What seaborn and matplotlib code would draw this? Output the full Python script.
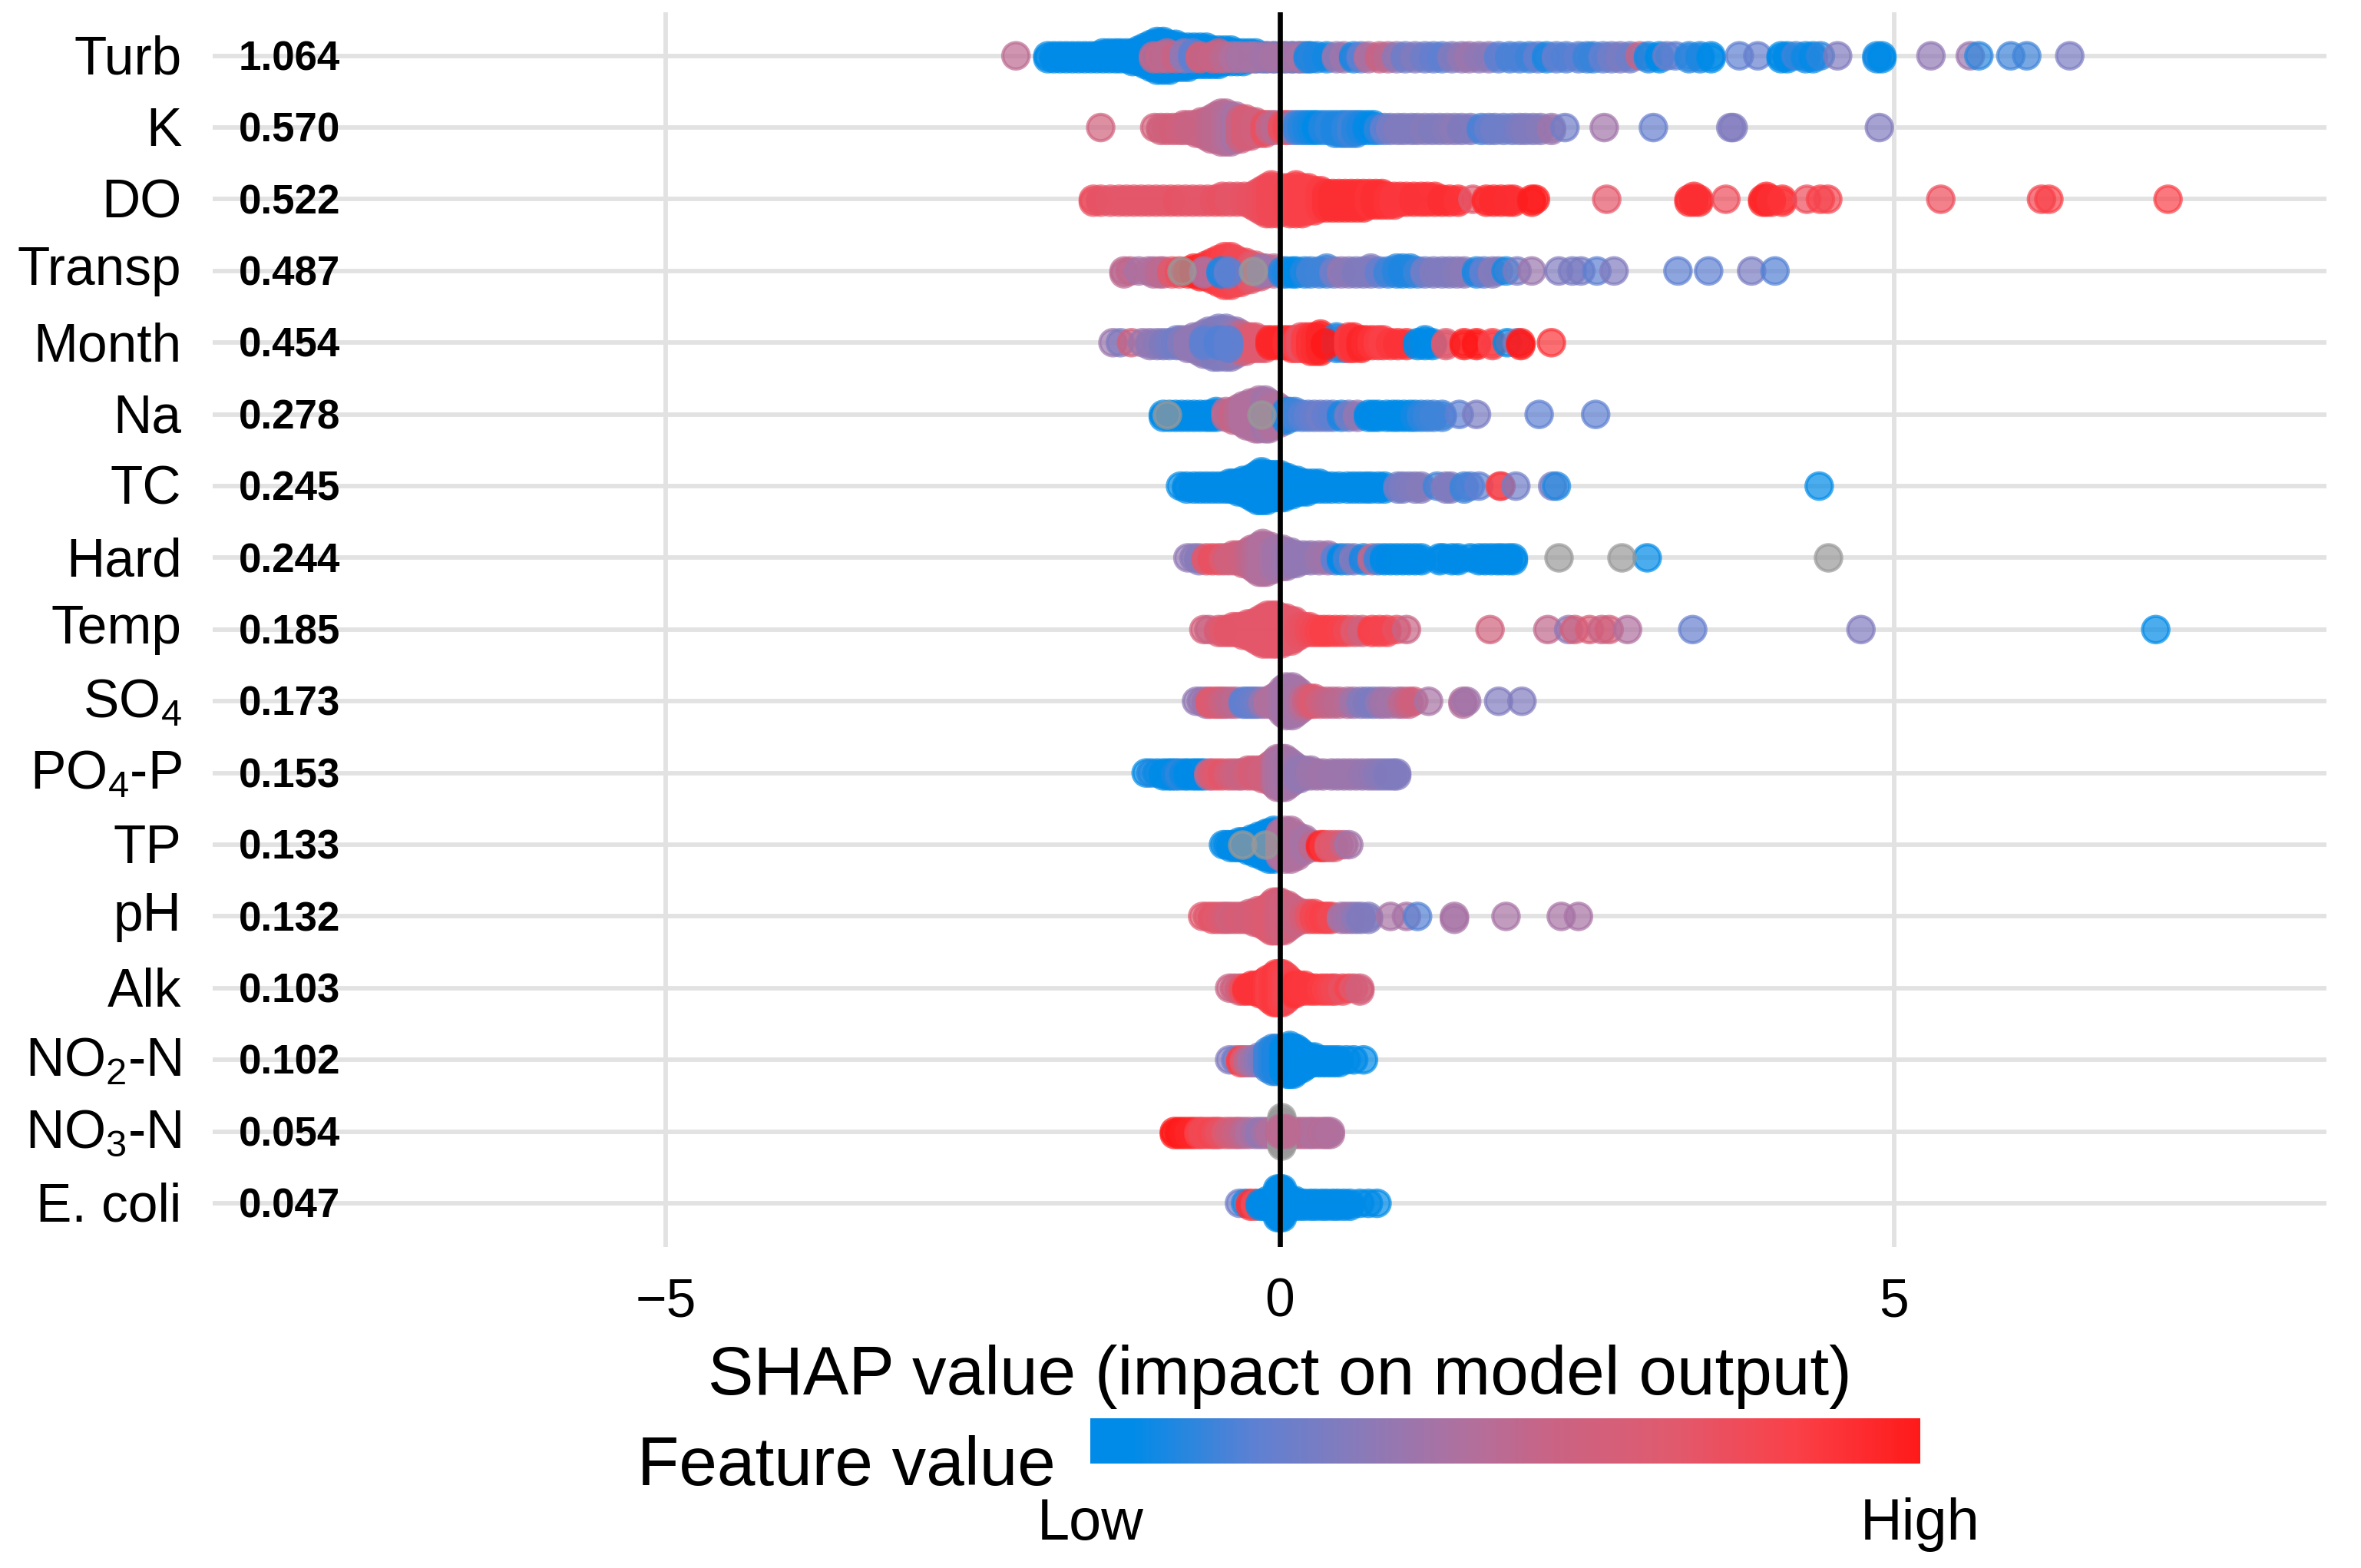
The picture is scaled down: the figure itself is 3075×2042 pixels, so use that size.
import math

import matplotlib.pyplot as plt
import numpy as np
import pandas as pd
import seaborn as sns
from matplotlib.cm import ScalarMappable
from matplotlib.colors import LinearSegmentedColormap, Normalize
from matplotlib.transforms import ScaledTranslation

nan = float("nan")

feature_names = ["Turb", "K", "DO", "Transp", "Month", "Na", "TC", "Hard", "Temp", "SO$_4$",
                 "PO$_4$-P", "TP", "pH", "Alk", "NO$_2$-N", "NO$_3$-N", "E. coli"]
mean_abs_shap = ["1.064", "0.570", "0.522", "0.487", "0.454", "0.278", "0.245", "0.244", "0.185",
                 "0.173", "0.153", "0.133", "0.132", "0.103", "0.102", "0.054", "0.047"]
x_ticks = [-5, 0, 5]

# each point: (shap value, feature value 0-1, how many samples pile up there)
turb = [(-2.15, .5, 1), (-1.89, 0, 2), (-1.84, 0, 2), (-1.79, 0, 2), (-1.74, 0, 2), (-1.69, 0, 2), (-1.64, 0, 2),
        (-1.59, 0, 2), (-1.54, 0, 2), (-1.49, 0, 2), (-1.44, 0, 3), (-1.39, 0, 3), (-1.34, 0, 3), (-1.3, 0, 3),
        (-1.25, 0, 3), (-1.2, 0, 4), (-1.15, 0, 5), (-1.1, 0, 7), (-1.05, 0, 9), (-1.0, 0, 11), (-.95, 0, 11),
        (-.9, 0, 10), (-.85, 0, 9), (-.8, 0, 8), (-.75, 0, 8), (-.7, 0, 7), (-.65, 0, 7), (-.6, 0, 7), (-.55, 0, 6),
        (-.5, 0, 6), (-.45, 0, 5), (-.4, 0, 5), (-.35, 0, 4), (-.3, 0, 4), (-.25, 0, 3), (-.2, 0, 3), (-.15, 0, 2),
        (-.1, 0, 2), (-.05, 0, 2), (0, 0, 2), (.05, 0, 2), (.1, 0, 2), (.15, 0, 2), (.2, 0, 2), (.25, 0, 2),
        (-1.03, .5, 2), (-.98, .52, 2), (-.92, .5, 3), (-.85, .55, 2), (-.78, .35, 3), (-.71, .2, 3), (-.65, .6, 2),
        (-.55, .55, 2), (-.5, .55, 3), (-.45, .5, 2), (-.38, .45, 2), (-.32, .42, 2), (-.25, .42, 2), (-.2, .42, 2),
        (-.12, .4, 2), (-.05, .42, 2), (.03, .42, 2), (.1, .4, 2), (.17, .42, 2), (.23, .1, 2), (.3, .1, 2),
        (.38, .08, 2), (.46, .35, 2), (.52, .38, 2), (.6, .1, 2), (.66, .2, 2), (.72, .45, 2), (.81, .55, 2),
        (.88, .5, 2), (.95, .35, 2), (1.02, .25, 2), (1.1, .3, 2), (1.18, .25, 2), (1.25, .22, 2), (1.32, .2, 2),
        (1.4, .3, 2), (1.48, .35, 2), (1.54, .38, 2), (1.62, .35, 2), (1.7, .33, 2), (1.78, .2, 2), (1.87, .17, 2),
        (1.95, .17, 2), (2.03, .15, 2), (2.1, .2, 2), (2.17, .1, 2), (2.25, .2, 2), (2.33, .18, 2), (2.43, .2, 2),
        (2.5, .15, 2), (2.55, .14, 2), (2.63, .2, 2), (2.7, .25, 2), (2.77, .28, 2), (2.85, .25, 2), (2.93, .55, 1),
        (3.0, .1, 2), (3.09, .05, 2), (3.15, .25, 1), (3.22, .2, 1), (3.33, .12, 2), (3.42, .1, 2), (3.51, .05, 2),
        (3.74, .2, 1), (3.89, .22, 1), (4.08, .05, 2), (4.13, .03, 2), (4.2, .15, 1), (4.28, .08, 2), (4.34, .06, 2),
        (4.4, .12, 1), (4.54, .3, 1), (4.86, .08, 2), (4.9, .02, 2), (5.3, .35, 1), (5.62, .38, 1), (5.69, .12, 1),
        (5.95, .15, 1), (6.08, .15, 1), (6.43, .28, 1)]
k = [(-1.46, .6, 1), (-1.02, .62, 1), (-.97, .6, 2), (-.92, .6, 2), (-.87, .62, 2), (-.82, .6, 2), (-.78, .58, 3),
     (-.73, .55, 3), (-.68, .55, 4), (-.64, .55, 5), (-.6, .55, 6), (-.56, .52, 8), (-.52, .5, 9), (-.48, .5, 11),
     (-.44, .48, 11), (-.4, .45, 10), (-.36, .42, 9), (-.32, .55, 8), (-.28, .65, 7), (-.24, .62, 6), (-.2, .6, 5),
     (-.16, .6, 4), (-.12, .75, 4), (-.08, .55, 3), (-.04, .5, 3), (.02, .75, 3), (.06, .8, 3), (.1, .3, 3),
     (.14, .15, 3), (.18, .12, 3), (.22, .1, 3), (.26, .08, 3), (.3, .05, 3), (.35, .1, 3), (.4, .12, 3), (.45, .1, 4),
     (.5, .1, 4), (.54, .12, 4), (.58, .15, 4), (.62, .12, 4), (.66, .1, 3), (.71, .06, 3), (.76, .05, 3), (.8, .12, 2),
     (.85, .2, 2), (.9, .27, 2), (.96, .3, 2), (1.01, .3, 2), (1.07, .3, 2), (1.12, .3, 2), (1.18, .32, 2), (1.24, .3, 2),
     (1.3, .3, 2), (1.36, .32, 2), (1.42, .33, 2), (1.48, .3, 2), (1.55, .3, 2), (1.64, .17, 2), (1.7, .22, 2),
     (1.75, .25, 2), (1.82, .25, 2), (1.89, .25, 2), (1.95, .28, 2), (2.0, .3, 2), (2.06, .3, 2), (2.12, .32, 2),
     (2.21, .38, 2), (2.32, .25, 1), (2.64, .4, 1), (3.04, .22, 1), (3.67, .3, 1), (3.69, .3, 1), (4.88, .3, 1)]
do = [(-1.52, .76, 2), (-1.46, .74, 2), (-1.38, .72, 2), (-1.31, .72, 2), (-1.25, .72, 2), (-1.19, .72, 2),
      (-1.13, .72, 2), (-1.07, .72, 2), (-1.01, .72, 2), (-.95, .72, 2), (-.89, .72, 2), (-.83, .74, 2), (-.77, .72, 2),
      (-.71, .72, 2), (-.65, .72, 2), (-.59, .72, 2), (-.53, .74, 2), (-.47, .75, 3), (-.41, .72, 3), (-.35, .72, 3),
      (-.29, .74, 3), (-.23, .75, 4), (-.19, .75, 6), (-.15, .76, 8), (-.11, .78, 10), (-.07, .8, 11), (-.02, .8, 10),
      (.03, .8, 9), (.08, .82, 10), (.13, .84, 11), (.18, .85, 10), (.23, .85, 9), (.28, .85, 8), (.33, .87, 7),
      (.38, .9, 6), (.43, .92, 6), (.48, .92, 6), (.53, .92, 6), (.58, .92, 6), (.63, .92, 6), (.68, .92, 6), (.73, .9, 5),
      (.78, .92, 5), (.83, .92, 5), (.88, .9, 4), (.93, .88, 4), (.98, .88, 3), (1.03, .88, 3), (1.09, .9, 3),
      (1.15, .9, 3), (1.2, .9, 3), (1.26, .9, 3), (1.32, .92, 2), (1.38, .92, 2), (1.45, .9, 2), (1.57, .7, 1),
      (1.68, .93, 2), (1.74, .93, 2), (1.8, .93, 2), (1.86, .92, 2), (1.9, .92, 2), (2.05, .98, 2), (2.08, .98, 1),
      (2.66, .72, 1), (3.33, .92, 2), (3.37, .92, 3), (3.41, .92, 2), (3.63, .78, 1), (3.93, .95, 2), (3.96, .95, 3),
      (4.0, .92, 2), (4.09, .9, 2), (4.29, .78, 1), (4.4, .85, 1), (4.46, .82, 1), (5.38, .78, 1), (6.2, .82, 1),
      (6.26, .85, 1), (7.23, .85, 1)]
transp = [(-1.27, .5, 2), (-1.22, .52, 1), (-1.15, .42, 1), (-1.07, .45, 1), (-1.03, .45, 2), (-.98, .5, 2), (-.95, .5, 2),
          (-.88, .7, 2), (-.82, .75, 2), (-.75, .9, 2), (-.7, .95, 3), (-.65, .95, 4), (-.6, .92, 5), (-.55, .9, 7),
          (-.5, .87, 9), (-.45, .85, 11), (-.4, .83, 11), (-.36, .8, 9), (-.32, .8, 8), (-.28, .8, 7), (-.24, .72, 6),
          (-.2, .7, 5), (-.16, .65, 4), (-.12, .6, 3), (-.05, .5, 3), (-.62, .45, 2), (-.48, .1, 2), (-.42, .2, 2),
          (-.15, .38, 3), (-.8, nan, 1), (-.22, nan, 1),
          (.02, .12, 2), (.05, .1, 2), (.1, .06, 2), (.13, .05, 2), (.2, .1, 2), (.25, .15, 2), (.32, .15, 2), (.38, .15, 3),
          (.44, .25, 2), (.5, .35, 2), (.56, .33, 2), (.62, .3, 2), (.68, .3, 2), (.74, .3, 3), (.81, .22, 2),
          (.88, .15, 2), (.95, .12, 3), (1.0, .1, 3), (1.06, .1, 3), (1.12, .14, 2), (1.18, .25, 2), (1.25, .3, 2),
          (1.32, .3, 2), (1.38, .3, 2), (1.44, .32, 2), (1.5, .33, 2), (1.6, .1, 2), (1.66, .2, 2), (1.73, .32, 2),
          (1.78, .3, 1), (1.84, .08, 1), (1.93, .28, 1), (2.05, .38, 1), (2.27, .3, 1), (2.38, .28, 1),
          (2.45, .28, 1), (2.58, .2, 1), (2.72, .3, 1), (3.24, .2, 1), (3.49, .2, 1), (3.84, .28, 1), (4.03, .18, 1)]
month = [(-1.36, .38, 1), (-1.3, .3, 1), (-1.21, .6, 1), (-1.12, .38, 1), (-1.06, .35, 2), (-1.0, .33, 2), (-.95, .3, 2),
         (-.9, .27, 2), (-.84, .25, 3), (-.8, .3, 3), (-.75, .35, 4), (-.7, .35, 5), (-.66, .35, 6), (-.62, .34, 8),
         (-.58, .33, 9), (-.54, .3, 10), (-.5, .3, 11), (-.44, .3, 11), (-.4, .32, 10), (-.36, .35, 9), (-.32, .5, 7),
         (-.28, .6, 6), (-.24, .66, 5), (-.2, .7, 5), (-.16, .7, 4), (-.12, .7, 4), (-.62, .2, 3), (-.5, .18, 3),
         (-.42, .2, 4), (-.08, .95, 3), (-.03, .95, 3), (.02, .95, 3), (.06, .92, 3), (.1, .9, 4), (.14, .82, 4),
         (.17, .75, 5), (.21, .85, 5), (.25, .9, 6), (.29, .92, 6), (.33, .95, 7), (.46, .1, 5), (.52, .12, 4), (.37, 1, 2),
         (.56, .88, 5), (.6, .9, 5), (.66, .95, 4), (.7, .93, 3), (.75, .9, 3), (.8, .87, 3), (.84, .85, 3), (.9, .88, 2),
         (.96, .9, 2), (1.03, .9, 2), (1.12, 0, 2), (1.18, .03, 3), (1.24, 0, 2), (1.35, .7, 2), (1.5, .98, 2), (1.6, 1, 2),
         (1.73, .85, 2), (1.85, .05, 1), (1.93, .3, 1), (1.96, 1, 2), (2.21, .9, 1)]
na = [(-.95, 0, 2), (-.9, 0, 2), (-.85, 0, 2), (-.8, 0, 2), (-.75, 0, 2), (-.7, 0, 2), (-.65, 0, 2), (-.6, 0, 2), (-.56, 0, 2),
      (-.52, .02, 3), (-.44, .5, 3), (-.38, .55, 4), (-.34, .5, 5), (-.3, .45, 7), (-.27, .45, 8), (-.24, .45, 9),
      (-.2, .45, 10), (-.17, .45, 11), (-.12, .4, 11), (-.09, .42, 10), (-.06, .45, 8), (-.03, .45, 7), (0, .45, 6),
      (.05, .1, 4), (.08, .12, 3), (.12, .15, 3), (.18, .18, 2), (.23, .2, 2), (.28, .22, 2), (.33, .25, 2), (.38, .22, 2),
      (.43, .2, 2), (.5, .1, 2), (.56, .25, 2), (.63, .35, 2), (.72, .05, 2), (.76, .04, 2), (.8, .03, 2), (.87, 0, 2),
      (.92, .02, 2), (.96, .03, 2), (1.01, .04, 2), (1.06, .05, 2), (1.1, .08, 2), (1.15, .12, 2), (1.2, .14, 2),
      (1.25, .15, 2), (1.32, .15, 2), (1.46, .2, 1), (1.6, .28, 1), (2.11, .2, 1), (2.57, .2, 1), (-.92, nan, 1),
      (-.15, nan, 1)]
tc = [(-.81, 0, 1), (-.76, 0, 2), (-.7, 0, 2), (-.65, 0, 2), (-.6, 0, 2), (-.55, 0, 2), (-.5, 0, 2), (-.45, 0, 2), (-.41, 0, 3),
      (-.38, 0, 3), (-.34, 0, 4), (-.3, 0, 5), (-.26, 0, 6), (-.22, 0, 8), (-.18, 0, 10), (-.15, 0, 11), (-.11, 0, 10),
      (-.08, 0, 9), (-.04, 0, 9), (0, 0, 9), (.03, 0, 8), (.06, 0, 7), (.1, 0, 6), (.14, 0, 5), (.18, 0, 4), (.22, 0, 4),
      (.27, 0, 3), (.32, 0, 3), (.37, 0, 2), (.42, 0, 2), (.48, 0, 2), (.55, 0, 2), (.6, 0, 2), (.65, 0, 2), (.7, 0, 2),
      (.74, 0, 2), (.8, 0, 2), (.85, 0, 2), (.96, .25, 2), (1.0, .28, 2), (1.05, .3, 1), (1.1, .3, 2), (1.15, .32, 2),
      (1.28, .15, 1), (1.35, .3, 2), (1.39, .3, 2), (1.5, .15, 2), (1.55, .17, 1), (1.62, .2, 1), (1.79, .75, 1), (1.8, .85, 1),
      (1.92, .25, 1), (2.22, .28, 1), (2.25, .1, 1), (4.39, 0, 1)]
hard = [(-.75, .35, 1), (-.7, .33, 1), (-.66, .32, 2), (-.6, .7, 2), (-.55, .75, 2), (-.5, .75, 2), (-.46, .68, 2), (-.42, .6, 2),
        (-.38, .6, 3), (-.34, .6, 3), (-.3, .58, 4), (-.26, .55, 5), (-.23, .52, 7), (-.2, .5, 8), (-.17, .47, 10),
        (-.14, .45, 11), (-.11, .45, 10), (-.08, .45, 9), (-.05, .42, 8), (-.02, .4, 7), (.02, .4, 7), (.05, .38, 6), (.09, .36, 5),
        (.13, .35, 4), (.19, .35, 3), (.25, .35, 3), (.32, .38, 3), (.39, .4, 3), (.45, .2, 2), (.5, .05, 2), (.55, .15, 2),
        (.6, .3, 2), (.68, .1, 2), (.75, .5, 2), (.8, .15, 2), (.85, .03, 2), (.9, 0, 2), (.95, 0, 2), (1.0, 0, 2), (1.05, 0, 2),
        (1.1, 0, 2), (1.15, 0, 2), (1.3, .05, 2), (1.33, 0, 1), (1.4, .03, 2), (1.45, .03, 2), (1.55, 0, 1), (1.62, 0, 2),
        (1.67, 0, 2), (1.72, 0, 2), (1.77, 0, 2), (1.81, 0, 2), (1.86, 0, 2), (1.9, 0, 2), (2.27, nan, 1), (2.78, nan, 1),
        (2.99, 0, 1), (4.46, nan, 1)]
temp = [(-.62, .62, 1), (-.58, .55, 1), (-.5, .65, 2), (-.46, .7, 2), (-.42, .72, 2), (-.38, .72, 3), (-.34, .72, 3), (-.3, .72, 4),
        (-.26, .72, 5), (-.22, .72, 6), (-.18, .72, 8), (-.14, .72, 10), (-.1, .72, 11), (-.06, .72, 11), (-.03, .72, 11),
        (.01, .72, 10), (.05, .72, 9), (.09, .72, 8), (.12, .72, 7), (.16, .74, 4), (.2, .75, 3), (.24, .78, 3), (.28, .8, 2),
        (.32, .83, 2), (.36, .85, 2), (.4, .85, 2), (.45, .85, 2), (.5, .83, 2), (.55, .8, 2), (.61, .7, 2), (.67, .6, 2),
        (.75, .85, 2), (.81, .83, 2), (.87, .82, 2), (.95, .75, 1), (1.03, .55, 1), (1.71, .6, 1), (2.18, .52, 1), (2.35, .35, 1),
        (2.4, .62, 1), (2.52, .65, 1), (2.62, .55, 1), (2.68, .62, 1), (2.83, .45, 1), (3.36, .22, 1), (4.73, .3, 1), (7.13, 0, 1)]
so4 = [(-.68, .35, 1), (-.64, .36, 1), (-.6, .38, 2), (-.57, .7, 2), (-.53, .68, 2), (-.5, .65, 2), (-.47, .6, 2), (-.44, .55, 2),
       (-.4, .52, 2), (-.36, .5, 2), (-.3, .2, 2), (-.27, .2, 2), (-.24, .22, 2), (-.21, .23, 2), (-.18, .25, 2), (-.14, .35, 2),
       (-.1, .45, 2), (-.06, .45, 3), (-.02, .45, 5), (.02, .42, 9), (.05, .4, 11), (.1, .4, 11), (.13, .41, 9), (.16, .42, 7),
       (.19, .48, 4), (.22, .55, 3), (.25, .62, 3), (.28, .68, 3), (.33, .6, 2), (.38, .55, 2), (.43, .52, 2), (.48, .5, 2),
       (.55, .48, 2), (.6, .4, 2), (.66, .32, 2), (.71, .3, 2), (.76, .28, 2), (.81, .35, 2), (.85, .4, 2), (.9, .41, 2),
       (.96, .42, 2), (1.0, .5, 2), (1.05, .55, 2), (1.09, .62, 1), (1.21, .42, 1), (1.49, .45, 2), (1.52, .4, 1), (1.78, .3, 1),
       (1.97, .3, 1)]
po4 = [(-1.09, .05, 1), (-1.05, .1, 1), (-1.0, .07, 1), (-.95, .03, 2), (-.91, .04, 2), (-.88, .05, 2), (-.85, .08, 2), (-.82, .12, 2),
       (-.78, .08, 2), (-.75, .05, 2), (-.71, .02, 2), (-.68, 0, 2), (-.65, 0, 2), (-.62, 0, 2), (-.58, .5, 2), (-.55, .65, 2),
       (-.51, .7, 2), (-.47, .72, 2), (-.42, .65, 2), (-.38, .6, 2), (-.34, .57, 2), (-.31, .55, 2), (-.26, .6, 3), (-.22, .65, 3),
       (-.18, .62, 3), (-.14, .6, 4), (-.1, .6, 5), (-.07, .6, 7), (-.04, .5, 9), (-.02, .45, 11), (.01, .43, 11), (.04, .42, 11),
       (.07, .41, 9), (.1, .4, 7), (.13, .38, 5), (.16, .35, 4), (.2, .36, 3), (.25, .38, 3), (.3, .39, 2), (.35, .4, 2),
       (.42, .38, 2), (.47, .38, 2), (.52, .38, 2), (.57, .38, 2), (.62, .38, 2), (.67, .37, 2), (.72, .36, 2), (.76, .35, 2),
       (.8, .33, 2), (.84, .32, 2), (.88, .3, 2), (.92, .3, 2), (.95, .3, 2)]
tp = [(-.46, 0, 1), (-.43, 0, 1), (-.4, 0, 2), (-.36, 0, 2), (-.33, 0, 3), (-.3, 0, 3), (-.26, 0, 4), (-.23, 0, 5), (-.2, 0, 6), (-.17, 0, 7),
      (-.14, 0, 8), (-.11, 0, 9), (-.09, 0, 10), (-.05, 0, 11), (0, .45, 9), (.04, .45, 11), (.09, .45, 11), (.14, .45, 8),
      (.2, .42, 5), (.27, .5, 2), (.33, .95, 2), (.36, .9, 2), (.4, .7, 2), (.44, .7, 2), (.48, .68, 1), (.52, .55, 1), (.56, .4, 1),
      (-.31, nan, 1), (-.12, nan, 1)]
ph = [(-.63, .7, 1), (-.59, .7, 1), (-.55, .72, 2), (-.51, .7, 2), (-.47, .68, 2), (-.44, .65, 2), (-.41, .6, 2), (-.37, .62, 2), (-.33, .65, 2),
      (-.29, .64, 2), (-.25, .62, 3), (-.21, .64, 4), (-.18, .65, 5), (-.14, .66, 6), (-.1, .68, 8), (-.07, .68, 10), (-.05, .68, 11),
      (-.02, .65, 11), (0, .62, 11), (.03, .6, 10), (.06, .6, 9), (.09, .58, 7), (.13, .55, 5), (.17, .58, 3), (.2, .62, 3),
      (.24, .72, 3), (.28, .8, 3), (.32, .83, 2), (.36, .85, 2), (.39, .83, 2), (.42, .8, 2), (.5, .42, 2), (.54, .4, 2), (.58, .38, 2),
      (.62, .34, 2), (.66, .3, 2), (.72, .3, 2), (.9, .42, 1), (1.03, .42, 1), (1.12, .18, 1), (1.42, .42, 2), (1.84, .42, 1),
      (2.29, .42, 1), (2.43, .42, 1)]
alk = [(-.41, .55, 1), (-.37, .58, 1), (-.33, .6, 2), (-.3, .75, 2), (-.27, .9, 2), (-.23, .9, 3), (-.2, .9, 3), (-.16, .9, 4), (-.13, .9, 5),
       (-.1, .88, 7), (-.08, .85, 8), (-.05, .87, 10), (-.03, .88, 11), (0, .87, 11), (.02, .85, 11), (.05, .82, 9), (.07, .8, 7),
       (.1, .85, 5), (.12, .9, 4), (.16, .89, 3), (.2, .88, 3), (.25, .88, 2), (.29, .88, 2), (.34, .87, 2), (.38, .85, 2),
       (.42, .82, 2), (.45, .8, 2), (.51, .75, 2), (.56, .82, 1), (.6, .7, 1), (.65, .62, 2)]
no2 = [(-.41, .3, 1), (-.36, .25, 1), (-.32, .85, 2), (-.29, .7, 2), (-.26, .5, 2), (-.23, .42, 2), (-.2, .38, 2), (-.17, .34, 3), (-.14, .3, 3),
       (-.1, .15, 7), (-.06, .12, 9), (-.03, .1, 9), (.03, 0, 9), (.06, 0, 10), (.08, 0, 11), (.11, 0, 10), (.13, 0, 9), (.16, 0, 7),
       (.18, 0, 6), (.21, 0, 4), (.24, 0, 3), (.28, 0, 3), (.32, 0, 2), (.36, 0, 2), (.4, 0, 2), (.44, 0, 2), (.48, 0, 2),
       (.54, 0, 1), (.6, 0, 1), (.68, 0, 1)]
no3 = [(-.86, 1, 2), (-.82, 1, 2), (-.78, .98, 2), (-.74, .96, 2), (-.7, .95, 2), (-.66, .85, 2), (-.63, .8, 2), (-.59, .8, 2), (-.55, .82, 2),
       (-.52, .78, 2), (-.49, .75, 2), (-.44, .68, 2), (-.4, .62, 2), (-.36, .58, 2), (-.33, .55, 2), (-.29, .5, 2), (-.25, .45, 2),
       (-.2, .4, 2), (-.16, .35, 2), (-.12, .4, 2), (-.08, .45, 2), (.12, .45, 2), (.16, .48, 2), (.2, .5, 2), (.24, .47, 2),
       (.27, .45, 2), (.31, .46, 2), (.35, .48, 2), (.38, .46, 2), (.41, .45, 2), (.01, nan, 11)]
# these sit on top of the grey pile in the NO3-N row
no3_top = [(0, .5, 3), (.05, .5, 3)]
ecoli = [(-.33, .25, 1), (-.28, .1, 1), (-.24, .9, 2), (-.2, .8, 2), (-.16, 0, 2), (-.13, 0, 2), (-.1, 0, 3), (-.06, 0, 3),
         (-.02, 0, 11), (0, 0, 11), (.02, 0, 11), (.06, 0, 3), (.09, 0, 3), (.12, 0, 3), (.16, 0, 2), (.2, 0, 2), (.25, 0, 2), (.29, 0, 2),
         (.34, 0, 2), (.38, 0, 2), (.43, 0, 2), (.47, 0, 2), (.52, 0, 2), (.57, 0, 2), (.65, 0, 1), (.72, 0, 1), (.79, 0, 1)]

rows = [turb, k, do, transp, month, na, tc, hard, temp, so4, po4, tp, ph, alk, no2, no3, ecoli]
no3_row = 15

sns.set_theme(style="white")
plt.rcParams["font.family"] = ["Liberation Sans", "DejaVu Sans"]
plt.rcParams["mathtext.fontset"] = "custom"
plt.rcParams["mathtext.rm"] = "Liberation Sans"
plt.rcParams["mathtext.default"] = "regular"

shap_colors = [(0, "#008be8"), (.05, "#008be8"), (.2, "#5f80d2"), (.33, "#8b7ab8"), (.45, "#b0709e"),
               (.55, "#c86485"), (.7, "#e05a6e"), (.85, "#fa4048"), (1, "#ff1a1a")]
shap_cmap = LinearSegmentedColormap.from_list("shap_like", shap_colors)


def pile_up(points, row):
    # spread the samples of one spot up and down like the shap beeswarm does
    out = []
    for shap_val, feat_val, count in points:
        for layer in range(count):
            sign = 1 if layer % 2 else -1
            out.append((shap_val, row + math.ceil(layer / 2) * sign * 0.04, feat_val))
    return out


records = []
for i, points in enumerate(rows):
    records += pile_up(points, i)
df = pd.DataFrame(records, columns=["shap", "y", "value"])
df_top = pd.DataFrame(pile_up(no3_top, no3_row), columns=["shap", "y", "value"])

W, H = 3075, 2042
fig = plt.figure(figsize=(W / 300, H / 300), dpi=300)
ax = fig.add_axes([277 / W, 1 - 1624 / H, (3030 - 277) / W, (1624 - 16) / H])

point_style = dict(s=68, alpha=0.7, linewidth=1, edgecolor="face", legend=False, ax=ax)
sns.scatterplot(data=df[df["value"].notna()], x="shap", y="y", hue="value", hue_norm=(0, 1),
                palette=shap_cmap, **point_style)
sns.scatterplot(data=df[df["value"].isna()], x="shap", y="y", color="#999999", **point_style)
sns.scatterplot(data=df_top, x="shap", y="y", hue="value", hue_norm=(0, 1), palette=shap_cmap, **point_style)

ax.set_xlim(-8.69, 8.52)
ax.set_ylim(16.61, -0.607)
ax.set_xticks(x_ticks)
ax.set_yticks(np.arange(len(feature_names)))
ax.set_yticklabels(feature_names)
ax.tick_params(axis="y", length=0, pad=9.7, labelsize=16.7, labelcolor="black")
ax.tick_params(axis="x", length=0, pad=9.5, labelsize=16.7, labelcolor="black")
ax.grid(True, color="#e2e2e2", linewidth=1.4)
ax.set_axisbelow(True)
sns.despine(ax=ax, left=True, bottom=True)

# labels with a descender or subscript sit a little higher than the plain ones
for label in ax.get_yticklabels():
    name = label.get_text()
    if name in ("Transp", "Temp", "pH"):
        up_pt = 1.7
    elif "$" in name:
        up_pt = 1.0
    else:
        up_pt = 0.4
    label.set_transform(label.get_transform() + ScaledTranslation(0, up_pt / 72, fig.dpi_scale_trans))

ax.axvline(0, color="black", linewidth=1.6, zorder=5)

for i, txt in enumerate(mean_abs_shap):
    ax.text(-8.48, i + 0.05, txt, fontsize=12.7, fontweight="bold", color="black", ha="left", va="center")

ax.set_xlabel("SHAP value (impact on model output)", fontsize=21.4, color="black", va="baseline")
ax.xaxis.set_label_coords(0.5048, (1624 - 1816) / (1624 - 16))
ax.set_ylabel("")

# colour bar under the axis
cax = fig.add_axes([1420 / W, 1 - 1906 / H, (2501 - 1420) / W, (1906 - 1847) / H])
cbar = fig.colorbar(ScalarMappable(norm=Normalize(0, 1), cmap=shap_cmap), cax=cax, orientation="horizontal")
cbar.outline.set_visible(False)
cbar.set_ticks([0, 1])
cbar.set_ticklabels(["Low", "High"])
cbar.ax.tick_params(length=0, pad=10.5, labelsize=18.2, labelcolor="black")
fig.text(1375 / W, 1 - 1934 / H, "Feature value", fontsize=21.4, color="black", ha="right", va="baseline")

fig.savefig("out.png", dpi=300)
